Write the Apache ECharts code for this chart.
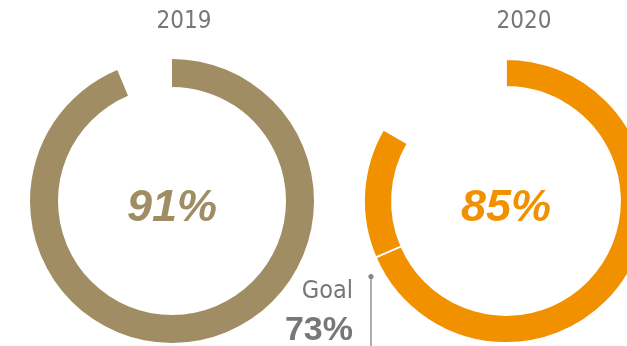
<!DOCTYPE html>
<html>
<head>
<meta charset="utf-8">
<script src="https://cdn.jsdelivr.net/npm/echarts@6/dist/echarts.min.js"></script>
<style>
html,body{margin:0;padding:0;background:#fff;}
#c{width:627px;height:346px;}
</style>
</head>
<body>
<div id="c"></div>
<script>
// ---- data ----
var years = ['2019', '2020'];
var valueLabels = ['91%', '85%'];
var arcFilled = [93.7, 83.4];        // filled share of ring as drawn
var goalLabel = '73%';
var goalTitle = 'Goal';
var goalTickOnRing = 68.5;           // position of the white goal tick on 2020 ring
var colors = ['#a08d63', '#f29100'];

// ---- layout ----
var centers = [[172, 201], [506, 201]];
var radius = [114, 142];
var narrow = '"Liberation Sans Narrow", "DejaVu Sans Condensed", "Liberation Sans", sans-serif';
var sans = '"Liberation Sans", Arial, sans-serif';

var chart = echarts.init(document.getElementById('c'), null, {renderer: 'canvas'});

function ringData(i) {
  var filledStyle = {color: colors[i], borderColor: '#fff', borderWidth: 1.8};
  var empty = {value: 100 - arcFilled[i], itemStyle: {color: 'rgba(0,0,0,0)', borderWidth: 0}};
  if (i === 1) {
    return [
      {value: goalTickOnRing, itemStyle: filledStyle},
      {value: arcFilled[i] - goalTickOnRing, itemStyle: filledStyle},
      empty
    ];
  }
  return [{value: arcFilled[i], itemStyle: {color: colors[i], borderWidth: 0}}, empty];
}

var series = years.map(function (y, i) {
  return {
    type: 'pie',
    center: centers[i],
    radius: radius,
    startAngle: 90,
    clockwise: true,
    silent: true,
    animation: false,
    label: {show: false},
    labelLine: {show: false},
    data: ringData(i)
  };
});

var titleX = [184, 524];
var graphics = [];
years.forEach(function (y, i) {
  graphics.push({
    type: 'text', x: titleX[i], y: 22,
    style: {text: y, fill: '#777777', font: '24px ' + narrow, align: 'center', verticalAlign: 'middle'}
  });
  graphics.push({
    type: 'text', x: centers[i][0], y: 209,
    style: {text: valueLabels[i], fill: colors[i], font: 'italic bold 45px ' + sans, align: 'center', verticalAlign: 'middle'}
  });
});
graphics.push({
  type: 'text', x: 353, y: 291,
  style: {text: goalTitle, fill: '#777777', font: '25px ' + narrow, align: 'right', verticalAlign: 'middle'}
});
graphics.push({
  type: 'text', x: 353, y: 331,
  style: {text: goalLabel, fill: '#777777', font: 'bold 34px ' + sans, align: 'right', verticalAlign: 'middle'}
});
graphics.push({
  type: 'line', shape: {x1: 371, y1: 277, x2: 371, y2: 346},
  style: {stroke: '#9a9a9a', lineWidth: 1.6}
});
graphics.push({
  type: 'circle', shape: {cx: 371, cy: 276.5, r: 2.6},
  style: {fill: '#888888'}
});

chart.setOption({
  animation: false,
  backgroundColor: '#fff',
  series: series,
  graphic: graphics
});
</script>
</body>
</html>
